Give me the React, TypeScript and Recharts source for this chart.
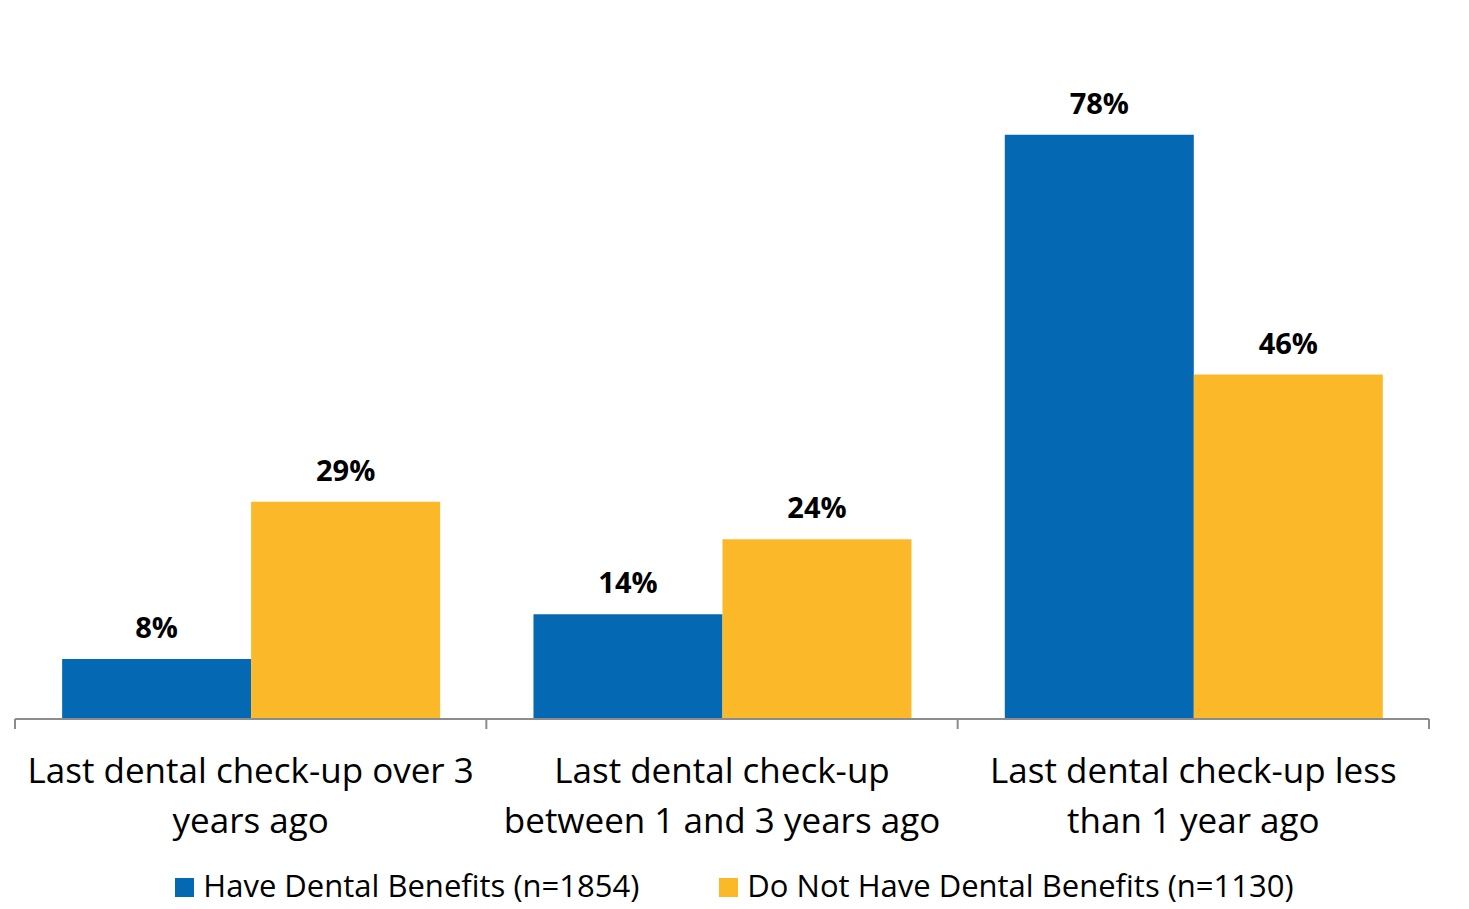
import React from 'react';
import { BarChart, Bar, XAxis, YAxis, LabelList } from 'recharts';

const categories = [
  ['Last dental check-up over 3', 'years ago'],
  ['Last dental check-up', 'between 1 and 3 years ago'],
  ['Last dental check-up less', 'than 1 year ago'],
];
const haveBenefits = [8, 14, 78];
const noBenefits = [29, 24, 46];
const seriesNames = ['Have Dental Benefits (n=1854)', 'Do Not Have Dental Benefits (n=1130)'];
const COLORS = ['#0568b3', '#fbb829'];

const data = categories.map((lines, i) => ({
  name: lines.join(' '),
  lines,
  have: haveBenefits[i],
  not: noBenefits[i],
}));

const FONT = '"Open Sans", "Noto Sans", sans-serif';

const CategoryTick = (props: any) => {
  const { x, y, payload, index } = props;
  const half = payload.offset || 0;
  const lines = data[index]?.lines || [payload.value];
  return (
    <g>
      <line x1={x - half} y1={y - 8} x2={x - half} y2={y + 2} stroke="#8c8c8c" strokeWidth={2} />
      {index === data.length - 1 && (
        <line x1={x + half} y1={y - 8} x2={x + half} y2={y + 2} stroke="#8c8c8c" strokeWidth={2} />
      )}
      <text x={x} y={y} textAnchor="middle" fill="#000" fontSize={35} fontFamily={FONT}>
        {lines.map((l: string, i: number) => (
          <tspan key={i} x={x} dy={i === 0 ? 56 : 50}>{l}</tspan>
        ))}
      </text>
    </g>
  );
};

const LegendRow = () => (
  <div style={{ position: 'absolute', left: 0, top: 866, width: 1469, display: 'flex', justifyContent: 'center', gap: 80, fontFamily: FONT, fontSize: 31, color: '#000', lineHeight: '38px' }}>
    {seriesNames.map((n, i) => (
      <div key={n} style={{ display: 'flex', alignItems: 'center' }}>
        <span style={{ display: 'inline-block', width: 19, height: 19, background: COLORS[i], marginRight: 9, marginTop: 4 }} />
        <span>{n}</span>
      </div>
    ))}
  </div>
);

export default function App() {
  return (
    <div style={{ position: 'relative', width: 1469, height: 909, overflow: 'hidden', background: '#fff' }}>
      <style>{'body{margin:0}'}</style>
      <BarChart
        width={1469}
        height={909}
        data={data}
        margin={{ top: 45, right: 40, bottom: 0, left: 15 }}
        barCategoryGap="10%"
        barGap={0}
      >
        <YAxis hide domain={[0, 90]} />
        <XAxis
          dataKey="name"
          axisLine={{ stroke: '#8c8c8c', strokeWidth: 2 }}
          tickLine={false}
          tick={<CategoryTick />}
          interval={0}
          height={190}
        />
        <Bar dataKey="have" fill={COLORS[0]} isAnimationActive={false}>
          <LabelList dataKey="have" position="top" offset={21} formatter={(v: any) => `${v}%`} fill="#000" fontSize={29} fontWeight="bold" fontFamily={FONT} />
        </Bar>
        <Bar dataKey="not" fill={COLORS[1]} isAnimationActive={false}>
          <LabelList dataKey="not" position="top" offset={21} formatter={(v: any) => `${v}%`} fill="#000" fontSize={29} fontWeight="bold" fontFamily={FONT} />
        </Bar>
      </BarChart>
      <LegendRow />
    </div>
  );
}
